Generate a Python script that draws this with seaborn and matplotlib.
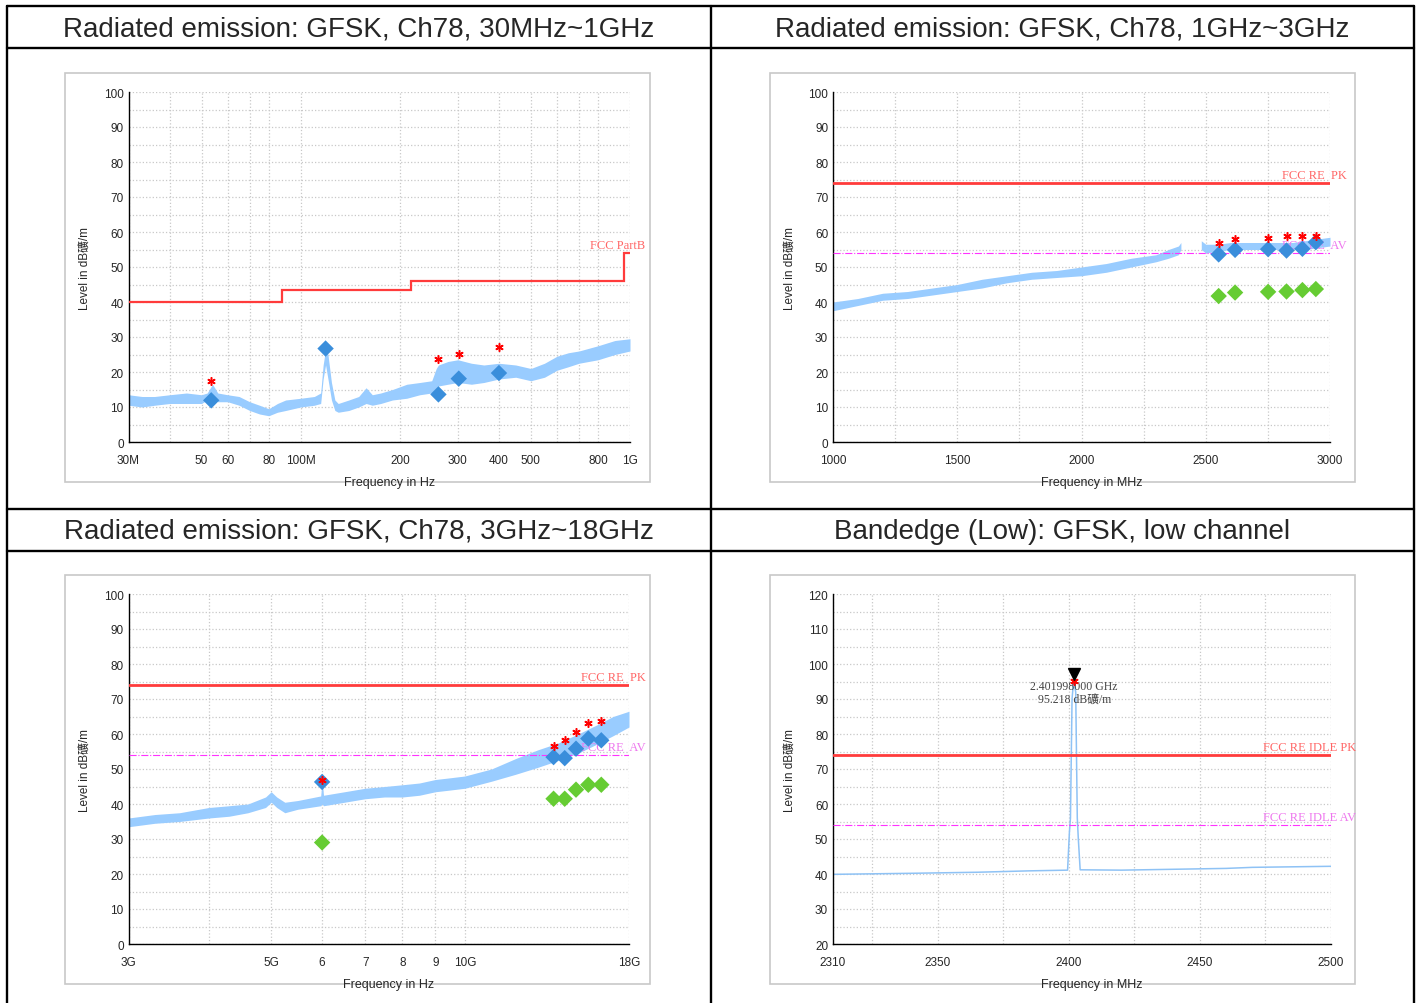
import matplotlib
matplotlib.use("Agg")
import matplotlib.pyplot as plt
import seaborn as sns
from matplotlib.patches import Rectangle
from matplotlib.ticker import MultipleLocator, NullLocator

# ---------------- data ----------------
titles = ["Radiated emission: GFSK, Ch78, 30MHz~1GHz",
          "Radiated emission: GFSK, Ch78, 1GHz~3GHz",
          "Radiated emission: GFSK, Ch78, 3GHz~18GHz",
          "Bandedge (Low): GFSK, low channel"]

# 30MHz - 1GHz (MHz)
low_freq = [30, 33, 36, 40, 45, 50, 52, 54, 56, 60, 65, 70, 75, 80, 85, 90, 100, 110, 115, 117,
            119, 121, 124, 127, 130, 140, 150, 158, 165, 175, 190, 210, 230, 250, 258, 262, 280, 300, 330, 360,
            400, 450, 500, 550, 600, 650, 700, 800, 900, 1000]
low_min = [10.5, 10.0, 10.5, 11.0, 11.0, 11.0, 12.0, 13.0, 11.5, 11.5, 10.5, 9.0, 8.0, 7.5, 8.5, 9.0, 10.0, 10.5, 11.0, 18.0,
           22.0, 18.0, 12.0, 9.0, 8.5, 9.0, 10.0, 11.0, 10.5, 11.0, 12.0, 12.5, 13.5, 14.0, 14.5, 16.0, 16.5, 17.0, 16.5, 17.0,
           18.0, 18.5, 17.5, 18.5, 20.5, 21.5, 22.5, 23.5, 25.0, 26.0]
low_max = [13.5, 13.0, 13.0, 13.5, 14.0, 13.5, 14.0, 16.5, 14.0, 13.5, 13.0, 11.5, 10.5, 9.5, 11.0, 12.0, 12.5, 13.0, 14.0, 22.0,
           26.5, 25.0, 17.0, 12.0, 11.0, 12.0, 13.0, 15.5, 13.5, 14.0, 15.0, 16.5, 17.0, 17.5, 21.0, 22.0, 23.0, 23.5, 22.5, 22.0,
           22.5, 22.0, 21.0, 22.5, 24.5, 25.5, 26.0, 27.5, 29.0, 29.5]
partb_edges = [30, 88, 216, 960, 1000]
partb_levels = [40, 43.5, 46, 54]
low_pk_freq = [53.5, 262, 302, 400]
low_pk_level = [17.5, 23.6, 25.1, 27.1]
low_qp_freq = [53.5, 119, 262, 302, 400]
low_qp_level = [11.9, 26.7, 13.6, 18.1, 19.7]

# 1GHz - 3GHz (MHz)
mid_freq_a = [1000, 1100, 1200, 1300, 1400, 1500, 1600, 1700, 1800, 1900, 2000, 2100, 2200, 2300, 2350, 2390, 2400]
mid_min_a = [37.5, 39.0, 40.5, 41.0, 42.0, 43.0, 44.0, 45.5, 46.5, 47.0, 47.5, 48.5, 50.0, 51.5, 52.5, 53.5, 55.0]
mid_max_a = [40.0, 41.0, 42.5, 43.0, 44.0, 45.0, 46.5, 47.5, 48.5, 49.0, 50.0, 51.0, 52.5, 53.5, 55.0, 56.0, 57.0]
mid_freq_b = [2482, 2500, 2550, 2600, 2650, 2700, 2750, 2800, 2850, 2900, 2950, 3000]
mid_min_b = [55.0, 54.0, 54.5, 55.0, 55.0, 55.0, 55.0, 55.0, 55.0, 55.0, 55.5, 56.0]
mid_max_b = [57.5, 56.5, 56.5, 57.0, 57.0, 57.0, 57.0, 57.0, 57.0, 57.5, 58.0, 58.5]
mid_mk_freq = [2552, 2618, 2751, 2825, 2889, 2943]
mid_pk_level = [56.8, 58.0, 58.2, 58.9, 58.9, 59.0]
mid_max_level = [53.6, 54.9, 55.1, 54.7, 55.2, 57.1]
mid_av_level = [41.7, 42.7, 42.9, 43.0, 43.4, 43.7]

# 3GHz - 18GHz (GHz)
high_freq = [3.0, 3.3, 3.6, 4.0, 4.3, 4.6, 4.9, 5.0, 5.1, 5.25, 5.5, 5.97, 6.0, 6.03, 6.5, 7.0, 7.5, 8.0, 8.5, 9.0,
             9.5, 10.0, 11.0, 12.0, 13.0, 14.0, 15.0, 16.0, 17.0, 18.0]
high_min = [33.5, 34.5, 35.0, 36.0, 36.5, 37.5, 39.0, 40.5, 39.0, 37.5, 38.5, 39.5, 40.0, 39.5, 40.5, 41.5, 42.0, 42.0, 42.5, 43.5,
            44.0, 44.5, 46.5, 48.5, 50.5, 52.5, 54.5, 57.0, 59.5, 62.0]
high_max = [36.0, 37.0, 37.5, 39.0, 39.5, 40.0, 42.0, 43.5, 42.0, 40.5, 41.0, 42.3, 47.0, 42.5, 43.5, 44.5, 45.0, 45.5, 46.0, 47.0,
            47.5, 48.0, 50.0, 53.0, 55.5, 57.5, 60.0, 62.5, 65.0, 66.5]
high_mk_freq = [6.0, 13.74, 14.3, 14.89, 15.56, 16.3]
high_pk_level = [47.0, 56.7, 58.4, 60.6, 63.1, 63.7]
high_max_level = [46.3, 53.4, 53.1, 55.8, 58.7, 58.2]
high_av_level = [29.0, 41.5, 41.5, 44.1, 45.5, 45.5]

# bandedge low channel (MHz)
edge_freq = [2310, 2340, 2365, 2385, 2399.5, 2400.2, 2400.6, 2401.2, 2401.8, 2402.6, 2403.2, 2403.6, 2404.3,
             2420, 2460, 2470, 2500]
edge_level = [39.9, 40.2, 40.5, 40.9, 41.1, 52.0, 56.0, 90.0, 95.2, 92.0, 56.0, 50.0, 41.2,
              41.1, 41.6, 41.9, 42.2]
edge_peak_freq = 2401.998
edge_peak_level = 95.218

fcc_pk = 74
fcc_av = 54

# ---------------- styling ----------------
sns.set_style("white")
plt.rcParams['font.family'] = ['Liberation Sans', 'Noto Sans CJK SC']
W, H = 1419, 1004
TRACE = '#99CCFF'
LIMIT = '#FF3B3B'
AVLINE = '#FF33FF'
BLUE = '#3A8EDB'
GREEN = '#66CC33'
GRIDC = '#C8C8C8'
CJK = ['Liberation Sans', 'Noto Sans CJK SC']
SERIF = ['Liberation Serif', 'Noto Sans CJK SC']

fig = plt.figure(figsize=(W / 100, H / 100), dpi=100)
bg = fig.add_axes([0, 0, 1, 1])
bg.set_xlim(0, W)
bg.set_ylim(H, 0)
bg.axis('off')

# table borders
for yy in [7, 49, 510, 552]:
    bg.plot([7, 1414], [yy, yy], color='black', lw=1.7)
for xx in [7, 711, 1414]:
    bg.plot([xx, xx], [7, H], color='black', lw=1.7)
head_pos = [(359, 29), (1062, 29), (359, 532), (1062, 532)]
for (hx, hy), t in zip(head_pos, titles):
    bg.text(hx, hy, t, ha='center', va='center', fontsize=20)

# grey frames around each chart
for fx, fy in [(65, 74), (770, 74), (65, 576), (770, 576)]:
    bg.add_patch(Rectangle((fx, fy), 585, 409, fill=False, ec='#C8C8C8', lw=1.2))


def px_axes(x0, y0, x1, y1):
    return fig.add_axes([x0 / W, 1 - y1 / H, (x1 - x0) / W, (y1 - y0) / H])


def style(ax, ylo, yhi, xlabel):
    ax.set_ylim(ylo, yhi)
    ax.yaxis.set_major_locator(MultipleLocator(10))
    ax.yaxis.set_minor_locator(MultipleLocator(5))
    ax.grid(True, which='both', axis='y', ls=':', color=GRIDC, lw=0.9)
    ax.grid(True, which='major', axis='x', ls=':', color=GRIDC, lw=0.9)
    for s in ['top', 'right']:
        ax.spines[s].set_visible(False)
    for s in ['left', 'bottom']:
        ax.spines[s].set_color('black')
        ax.spines[s].set_linewidth(1.0)
    ax.tick_params(which='both', direction='inout', length=6, width=0.9, color='black')
    ax.tick_params(axis='y', labelsize=8.5, pad=0.5)
    ax.tick_params(axis='x', labelsize=8.5, pad=6)
    ax.set_xlabel(xlabel, fontsize=9)
    ax.set_ylabel('Level in dB礦/m', fontsize=8.5, family=CJK)
    ax.xaxis.set_label_coords(0.52, -0.097)
    ax.yaxis.set_label_coords(-0.073, 0.5)
    ax.set_facecolor('none')


def limit_text(ax, level, text, color, xpos):
    ax.text(xpos, level + 0.6, text, transform=ax.get_yaxis_transform(), ha='right', va='bottom',
            fontsize=9, color=color, family=SERIF, clip_on=False)


def markers(ax, pk_freq, pk, mk_freq, mx, av=None):
    if av is not None:
        sns.scatterplot(x=mk_freq, y=av, marker='D', color=GREEN, s=70, edgecolor='none', ax=ax, zorder=5)
    sns.scatterplot(x=mk_freq, y=mx, marker='D', color=BLUE, s=70, edgecolor='none', ax=ax, zorder=6)
    ax.plot(pk_freq, pk, ls='none', marker=(6, 2, 0), color='red', ms=6, mew=1.1, zorder=7)


# ---- panel 1: 30MHz - 1GHz
ax1 = px_axes(128.5, 93, 630, 443)
ax1.fill_between(low_freq, low_min, low_max, color=TRACE, lw=0, zorder=2)
ax1.stairs(partb_levels, partb_edges, baseline=None, color=LIMIT, lw=1.6, zorder=3)
markers(ax1, low_pk_freq, low_pk_level, low_qp_freq, low_qp_level)
ax1.set_xscale('log')
ax1.set_xlim(30, 1000)
ax1.set_xticks([30, 40, 50, 60, 70, 80, 100, 200, 300, 400, 500, 600, 700, 800, 1000],
               ['30M', '', '50', '60', '', '80', '100M', '200', '300', '400', '500', '', '', '800', '1G'])
ax1.xaxis.set_minor_locator(NullLocator())
style(ax1, 0, 100, 'Frequency in Hz')
limit_text(ax1, partb_levels[-1], 'FCC PartB', '#FF6666', 1.03)

# ---- panel 2: 1GHz - 3GHz
ax2 = px_axes(833, 93, 1330, 443)
ax2.fill_between(mid_freq_a, mid_min_a, mid_max_a, color=TRACE, lw=0, zorder=2)
ax2.fill_between(mid_freq_b, mid_min_b, mid_max_b, color=TRACE, lw=0, zorder=2)
ax2.axhline(fcc_pk, color=LIMIT, lw=2.0, zorder=3)
ax2.axhline(fcc_av, color=AVLINE, lw=0.8, ls='-.', zorder=3)
markers(ax2, mid_mk_freq, mid_pk_level, mid_mk_freq, mid_max_level, mid_av_level)
ax2.set_xlim(1000, 3000)
ax2.set_xticks(range(1000, 3001, 250),
               ['1000', '', '1500', '', '2000', '', '2500', '', '3000'])
style(ax2, 0, 100, 'Frequency in MHz')
limit_text(ax2, fcc_pk, 'FCC RE  PK', '#FF6666', 1.034)
limit_text(ax2, fcc_av, 'FCC RE  AV', '#EE77EE', 1.034)

# ---- panel 3: 3GHz - 18GHz
ax3 = px_axes(128.5, 595, 629, 945)
ax3.fill_between(high_freq, high_min, high_max, color=TRACE, lw=0, zorder=2)
ax3.axhline(fcc_pk, color=LIMIT, lw=2.0, zorder=3)
ax3.axhline(fcc_av, color=AVLINE, lw=0.8, ls='-.', zorder=3)
markers(ax3, high_mk_freq, high_pk_level, high_mk_freq, high_max_level, high_av_level)
ax3.set_xscale('log')
ax3.set_xlim(3, 18)
ax3.set_xticks([3, 4, 5, 6, 7, 8, 9, 10, 18],
               ['3G', '', '5G', '6', '7', '8', '9', '10G', '18G'])
ax3.xaxis.set_minor_locator(NullLocator())
style(ax3, 0, 100, 'Frequency in Hz')
limit_text(ax3, fcc_pk, 'FCC RE  PK', '#FF6666', 1.034)
limit_text(ax3, fcc_av, 'FCC RE  AV', '#EE77EE', 1.034)

# ---- panel 4: bandedge
ax4 = px_axes(833, 595, 1331, 945)
sns.lineplot(x=edge_freq, y=edge_level, sort=False, color='#8EC2F5', lw=1.1, ax=ax4, zorder=2)
ax4.axhline(fcc_pk, color=LIMIT, lw=2.0, zorder=3)
ax4.axhline(fcc_av, color=AVLINE, lw=0.8, ls='-.', zorder=3)
ax4.plot([edge_peak_freq], [edge_peak_level], ls='none', marker=(6, 2, 0), color='red', ms=6, mew=1.1, zorder=6)
ax4.plot([edge_peak_freq], [edge_peak_level + 1.8], ls='none', marker='v', color='black', ms=9, zorder=7)
ax4.text(edge_peak_freq, edge_peak_level - 1.6, f'{edge_peak_freq / 1000:.9f} GHz', ha='center', va='center',
         fontsize=8.5, color='#444444', family=SERIF)
ax4.text(edge_peak_freq, edge_peak_level - 5.4, f'{edge_peak_level:.3f} dB礦/m', ha='center', va='center',
         fontsize=8.5, color='#444444', family=SERIF)
ax4.set_xlim(2310, 2500)
ax4.set_xticks([2310, 2325, 2350, 2375, 2400, 2425, 2450, 2475, 2500],
               ['2310', '', '2350', '', '2400', '', '2450', '', '2500'])
style(ax4, 20, 120, 'Frequency in MHz')
limit_text(ax4, fcc_pk, 'FCC RE IDLE PK', '#FF6666', 1.05)
limit_text(ax4, fcc_av, 'FCC RE IDLE AV', '#EE77EE', 1.05)

fig.savefig('out.png', dpi=100)
